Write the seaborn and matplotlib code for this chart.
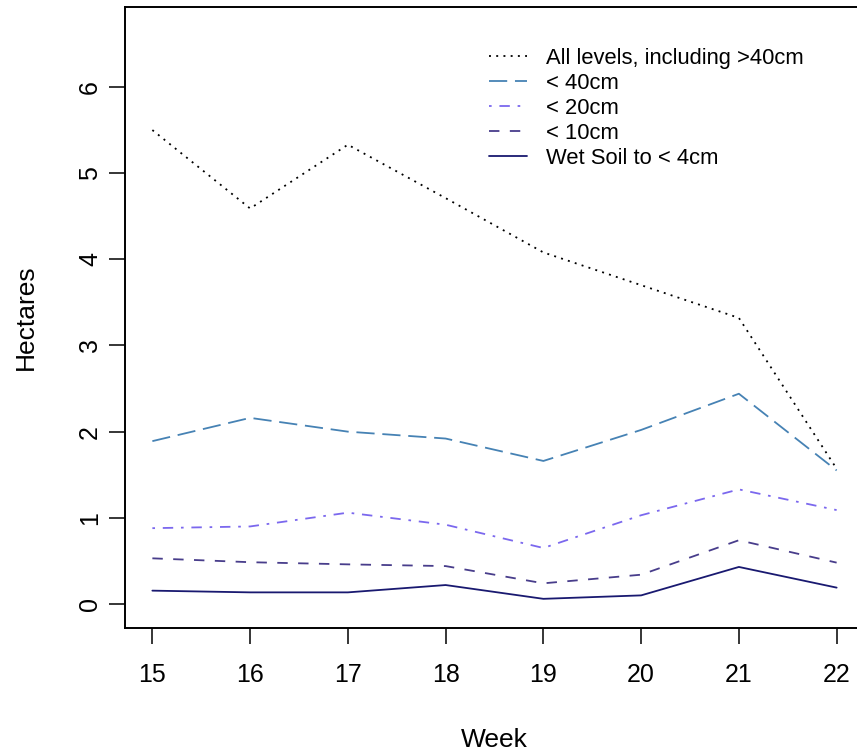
import matplotlib
matplotlib.use("Agg")
import matplotlib.pyplot as plt
from matplotlib.lines import Line2D
import pandas as pd
import seaborn as sns

# Weekly flooded area by water depth class
weeks = [15, 16, 17, 18, 19, 20, 21, 22]
all_levels = [5.50, 4.59, 5.33, 4.71, 4.08, 3.70, 3.32, 1.57]
lt_40cm = [1.89, 2.16, 2.00, 1.92, 1.66, 2.02, 2.44, 1.55]
lt_20cm = [0.88, 0.90, 1.06, 0.92, 0.65, 1.03, 1.33, 1.09]
lt_10cm = [0.53, 0.485, 0.46, 0.44, 0.24, 0.34, 0.74, 0.48]
wet_soil = [0.155, 0.135, 0.135, 0.22, 0.06, 0.10, 0.43, 0.19]

labels = ["All levels, including >40cm", "< 40cm", "< 20cm", "< 10cm",
          "Wet Soil to < 4cm"]
series = [all_levels, lt_40cm, lt_20cm, lt_10cm, wet_soil]
colors = ["black", "#4682B4", "#7B68EE", "#483D8B", "#191970"]
# dash patterns in points (dotted, long dash, dot-dash, dashed, solid)
dash_styles = [(1.4, 3.8), (13.1, 5.6), (1.9, 5.6, 7.5, 5.6), (7.5, 7.5), ""]

sns.set_style("ticks")
plt.rcParams["font.family"] = ["Liberation Sans", "DejaVu Sans"]
plt.rcParams["lines.scale_dashes"] = False
for key in ["text.color", "axes.labelcolor", "xtick.color", "ytick.color",
            "xtick.labelcolor", "ytick.labelcolor"]:
    plt.rcParams[key] = "black"

df = pd.DataFrame({
    "Week": weeks * len(labels),
    "Hectares": [v for s in series for v in s],
    "Level": [lab for lab in labels for _ in weeks],
})

fig = plt.figure(figsize=(8.57, 7.54), dpi=100)
ax = fig.add_axes([125 / 857, 126 / 754, 739 / 857, 621 / 754])

sns.lineplot(data=df, x="Week", y="Hectares", hue="Level", style="Level",
             hue_order=labels, style_order=labels,
             palette=dict(zip(labels, colors)),
             dashes=dict(zip(labels, dash_styles)),
             linewidth=1.3, legend=False, ax=ax)

ax.set_xlim(14.72, 22.28)
ax.set_ylim(-0.2785, 6.928)
ax.set_xticks(weeks)
ax.set_yticks(range(0, 7))

for sp in ax.spines.values():
    sp.set_visible(True)
    sp.set_linewidth(1.4)
    sp.set_color("black")

ax.tick_params(axis="both", direction="out", length=11.5, width=1.1,
               labelsize=18, colors="black")
ax.tick_params(axis="x", pad=14)
ax.tick_params(axis="y", pad=5, labelrotation=90)
for t in ax.get_yticklabels():
    t.set_va("center")

ax.set_xlabel("Week", fontsize=19, color="black")
ax.set_ylabel("Hectares", fontsize=19, color="black")
ax.xaxis.label.set_va("baseline")
ax.xaxis.set_label_coords(0.5, (628 - 747) / 621)
ax.yaxis.label.set_va("baseline")
ax.yaxis.set_label_coords((33 - 125) / 739, 0.5)

handles = [Line2D([0], [0], color=c, lw=1.3,
                  linestyle=(0, d) if d else "-")
           for c, d in zip(colors, dash_styles)]
leg = ax.legend(handles, labels, loc="upper left",
                bbox_to_anchor=((489 - 125) / 739, (628 - 48) / 621),
                frameon=False, fontsize=15.8, borderpad=0, borderaxespad=0,
                handlelength=1.73, handletextpad=0.87, labelspacing=0.18)
for t in leg.get_texts():
    t.set_color("black")

fig.savefig("out.png", dpi=100, facecolor="white")
